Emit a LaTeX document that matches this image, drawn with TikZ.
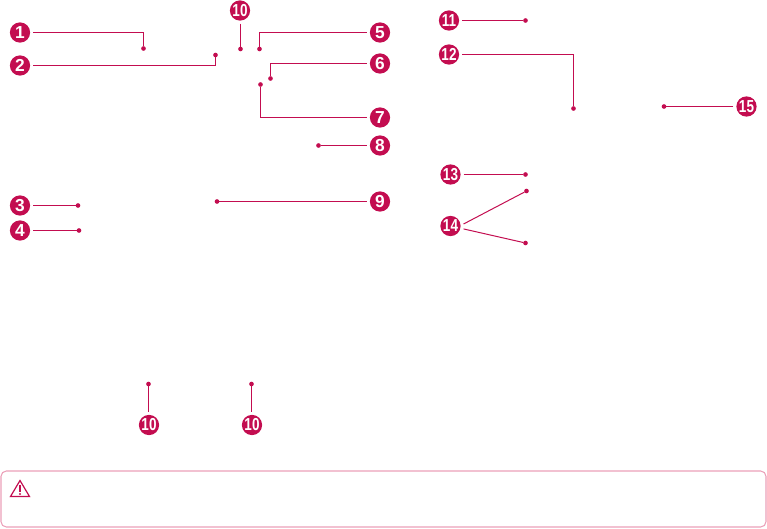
\documentclass[tikz,border=0pt]{standalone}
\usepackage{fontspec}
\setmainfont{Liberation Sans}
\definecolor{lgred}{HTML}{C30D50}
\definecolor{boxedge}{HTML}{EBA0B8}
\tikzset{
  x=0.75pt,y=-0.75pt,
  num/.style={circle,fill=lgred,text=white,minimum size=15.2pt,inner sep=0pt,outer sep=2.2pt,font=\bfseries\fontsize{13}{13}\selectfont},
  dot/.style={circle,fill=lgred,minimum size=3.5pt,inner sep=0pt,outer sep=0pt},
  lead/.style={draw=lgred,line width=0.75pt},
  notebox/.style={draw=boxedge,line width=0.8pt,rounded corners=4pt},
  warnicon/.style={draw=lgred,line width=0.9pt,line join=miter}
}
\newcommand{\tw}[1]{\scalebox{0.78}[1]{#1}}
\begin{document}
\begin{tikzpicture}
\useasboundingbox (0,0) rectangle (767,528);
% numbered circles
\node[num] (n1) at (20,32.5) {1};
\node[num] (n2) at (20,65.5) {2};
\node[num] (n3) at (20,205.5) {3};
\node[num] (n4) at (20,230.5) {4};
\node[num] (n5) at (380,32.5) {5};
\node[num] (n6) at (380,63.5) {6};
\node[num] (n7) at (380,117.5) {7};
\node[num] (n8) at (380,145.5) {8};
\node[num] (n9) at (380,201.5) {9};
\node[num] (n10a) at (240,10.5) {\tw{10}};
\node[num] (n10b) at (149,425) {\tw{10}};
\node[num] (n10c) at (252,425) {\tw{10}};
\node[num] (n11) at (449,20.5) {\tw{11}};
\node[num] (n12) at (449,54.5) {\tw{12}};
\node[num] (n13) at (450.5,174.5) {\tw{13}};
\node[num] (n14) at (450.5,226) {\tw{14}};
\node[num] (n15) at (746.5,106.5) {\tw{15}};
% target dots
\node[dot] (d1) at (143.5,48.5) {};
\node[dot] (d2) at (215.5,55) {};
\node[dot] (d3) at (78,205.5) {};
\node[dot] (d4) at (79,230.5) {};
\node[dot] (d5) at (259.5,49) {};
\node[dot] (d6) at (270.5,78.5) {};
\node[dot] (d7) at (260.5,84.5) {};
\node[dot] (d8) at (318.5,145.5) {};
\node[dot] (d9) at (217,201.5) {};
\node[dot] (d10a) at (240.5,49) {};
\node[dot] (d10b) at (148.5,384) {};
\node[dot] (d10c) at (251.5,384) {};
\node[dot] (d11) at (525.5,20.5) {};
\node[dot] (d12) at (573.5,108.5) {};
\node[dot] (d13) at (525.5,174.5) {};
\node[dot] (d14a) at (526.5,191) {};
\node[dot] (d14b) at (525.5,243) {};
\node[dot] (d15) at (664,106.5) {};
% connectors
\draw[lead] (n1) -| (d1);
\draw[lead] (n2) -| (d2);
\draw[lead] (n3) -- (d3);
\draw[lead] (n4) -- (d4);
\draw[lead] (n5) -| (d5);
\draw[lead] (n6) -| (d6);
\draw[lead] (n7) -| (d7);
\draw[lead] (n8) -- (d8);
\draw[lead] (n9) -- (d9);
\draw[lead] (n10a.south -| d10a) -- (d10a);
\draw[lead] (n10b.north -| d10b) -- (d10b);
\draw[lead] (n10c.north -| d10c) -- (d10c);
\draw[lead] (n11) -- (d11);
\draw[lead] (n12) -| (d12);
\draw[lead] (n13) -- (d13);
\draw[lead] ([yshift=1.5pt]n14.east) -- (d14a);
\draw[lead] ([yshift=-2.2pt]n14.east) -- (d14b);
\draw[lead] (n15) -- (d15);
% caution box
\draw[notebox] (1,471) rectangle (766,527);
\draw[warnicon] (20,480.5) -- (29.5,496.5) -- (10.5,496.5) -- cycle;
\draw[lgred,line width=1.1pt] (20,485) -- (20,491.5);
\fill[lgred] (20,494) circle (0.8pt);
\end{tikzpicture}
\end{document}
